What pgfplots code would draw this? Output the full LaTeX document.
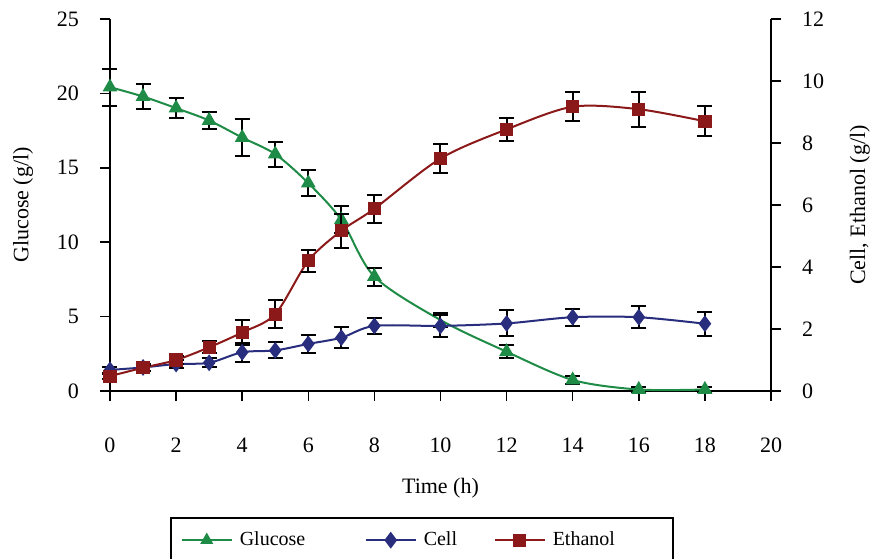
\documentclass[border=0pt]{standalone}
\usepackage{pgfplots}
\pgfplotsset{compat=1.18}
\usepackage{pgfplotstable}
\usepackage{fontspec}
\setmainfont{Liberation Serif}
\definecolor{gluc}{RGB}{30,140,70}
\definecolor{cellc}{RGB}{40,45,125}
\definecolor{ethc}{RGB}{140,25,25}

\pgfplotstableread{
t y e
0 20.42 1.25
1 19.79 0.83
2 19.01 0.69
3 18.18 0.56
4 17.03 1.26
5 15.92 0.84
6 13.97 0.86
7 11.5 0.9
8 7.69 0.6
10 4.77 0.5
12 2.64 0.45
14 0.74 0.3
16 0.1 0.15
18 0.1 0.15
}\glucose
\pgfplotstableread{
t y e
0 0.68 0.1
1 0.76 0.1
2 0.87 0.12
3 0.91 0.15
4 1.25 0.3
5 1.31 0.26
6 1.52 0.29
7 1.72 0.33
8 2.10 0.27
10 2.10 0.36
12 2.18 0.42
14 2.38 0.27
16 2.38 0.36
18 2.17 0.39
}\cell
\pgfplotstableread{
t y e
0 0.48 0.08
1 0.75 0.1
2 1.0 0.12
3 1.41 0.2
4 1.89 0.39
5 2.48 0.46
6 4.2 0.35
7 5.17 0.55
8 5.88 0.45
10 7.5 0.47
12 8.44 0.38
14 9.17 0.46
16 9.09 0.56
18 8.7 0.49
}\ethanol

\pgfplotsset{
  common/.style={
    at={(0,0)}, anchor=south west,
    scale only axis, width=330.5pt, height=186pt,
    xmin=0, xmax=20,
    tick align=outside, major tick length=5pt,
    tick style={black, line width=0.75pt},
    axis line style={black, line width=0.75pt},
    font=\fontsize{11}{13}\selectfont,
    /pgf/number format/assume math mode=true,
    clip=false,
  },
  errstyle/.style={
    error bars/.cd, y dir=both, y explicit,
    error bar style={black, line width=1pt},
    error mark options={black, rotate=90, mark size=3.75pt, line width=1pt},
  },
}

\begin{document}
\begin{tikzpicture}
\begin{axis}[common,
  ymin=0, ymax=25,
  axis x line*=bottom, axis y line*=left,
  xtick={0,2,...,20}, ytick={0,5,...,25},
  xticklabel style={yshift=-15pt},
  yticklabel style={anchor=east, xshift=-7pt},
  every axis y label/.style={at={(axis description cs:-0.1316,0.5)}, rotate=90, anchor=center},
  every axis x label/.style={at={(axis description cs:0.5,-0.2608)}, anchor=center},
  ylabel={Glucose (g/l)}, xlabel={Time (h)},
]
\addplot[gluc, line width=1pt, smooth, tension=0.5, mark=triangle*, mark size=3.3pt,
  mark options={solid, fill=gluc, draw=gluc},
  mark indices={1,2,3,4,5,6,7,8,9,11,12,13,14},
  errstyle] table[x=t, y=y, y error=e] {\glucose};
\end{axis}
\begin{axis}[common,
  ymin=0, ymax=12,
  axis x line=none, axis y line*=right,
  ytick={0,2,...,12},
  yticklabel style={anchor=west, xshift=7pt},
  every axis y label/.style={at={(axis description cs:1.1346,0.5)}, rotate=90, anchor=center},
  ylabel={Cell, Ethanol (g/l)},
  legend columns=3,
  legend style={at={(axis description cs:0.0908,-0.3387)}, anchor=north west,
    draw=black, line width=0.75pt, font=\fontsize{10}{12}\selectfont,
    inner xsep=5pt, inner ysep=7pt,
    nodes={inner sep=0pt},
    /tikz/every odd column/.append style={column sep=3.5pt}},
  legend cell align=left,
  legend image code/.code={\draw[#1, mark repeat=2, mark phase=2] plot coordinates {(0pt,0pt) (12.5pt,0pt) (25pt,0pt)};},
]
\addlegendimage{gluc, line width=1pt, mark=triangle*, mark size=3.3pt, mark options={solid, fill=gluc, draw=gluc, line width=0.5pt}}
\addlegendentry{\makebox[62.5pt][l]{Glucose}}
\addplot[cellc, line width=1pt, smooth, tension=0.5, mark=diamond*, mark size=3.4pt,
  mark options={solid, fill=cellc, draw=cellc},
  errstyle] table[x=t, y=y, y error=e] {\cell};
\addlegendentry{\makebox[35pt][l]{Cell}}
\addplot[ethc, line width=1pt, smooth, tension=0.5, mark=square*, mark size=2.8pt,
  mark options={solid, fill=ethc, draw=ethc},
  errstyle] table[x=t, y=y, y error=e] {\ethanol};
\addlegendentry{\makebox[55pt][l]{Ethanol}}
\end{axis}
\pgfresetboundingbox
\useasboundingbox (-55pt,-83.5pt) rectangle (382pt,195.5pt);
\end{tikzpicture}
\end{document}
